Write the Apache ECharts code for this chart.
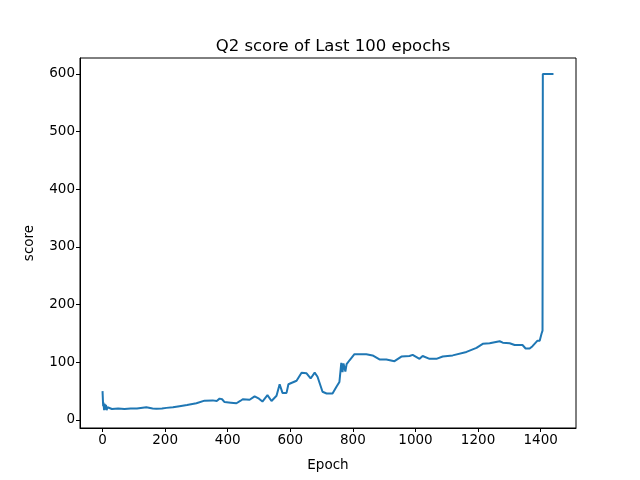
<!DOCTYPE html>
<html><head><meta charset="utf-8">
<script src="https://cdn.jsdelivr.net/npm/echarts@6/dist/echarts.min.js"></script>
<style>html,body{margin:0;padding:0;background:#fff}#c{width:640px;height:480px}</style>
</head><body><div id="c"></div>
<script>
const epochs = [0,2,3,5,7,9,11,13,16,20,30,50,70,90,110,140,160,172,190,204,225,246,270,300,326,352,365,374,382,390,410,428,440,448,470,486,500,511,527,540,556,560,566,570,575,588,594,620,636,652,665,678,687,695,703,716,735,748,757,763,767,770,773,776,780,790,805,843,863,885,907,933,955,981,991,1013,1023,1045,1067,1087,1119,1163,1195,1215,1237,1269,1279,1301,1317,1342,1352,1365,1374,1390,1397,1403,1406,1407,1441];
const scores = [50,24,30,17,28,18,26,17,22,19,19,20,19,20,20,22,20,19.6,20,21,22,24,26,29,33.5,34,33,37,36,31,30,29,33,36,35,41,37,32,43,33,42,44,62,60,47,47,62,68,82,81,72,82,75,62,49,46,46,58,66,99,83,98,99,84,97,104,114,114,112,105,105,102,110,111,113,106,111,106,106,110,112,118,125,132,133,136.5,134,133,130,130,124,124,128,137.5,137.5,150,155,600,600];
const xTicks = [0,200,400,600,800,1000,1200,1400];
const yTicks = [0,100,200,300,400,500,600];
const titleText = 'Q2 score of Last 100 epochs';
const xName = 'Epoch';
const yName = 'score';

const font = 'DejaVu Sans';
const chart = echarts.init(document.getElementById('c'), null, {renderer:'canvas'});
chart.setOption({
  animation:false,
  title:{text:titleText,left:328,top:33,textAlign:'center',textStyle:{fontFamily:font,fontSize:16.5,fontWeight:'normal',color:'#000'}},
  grid:{left:80,right:64,top:58,bottom:52,show:true,borderColor:'#000',borderWidth:1,containLabel:false},
  xAxis:{type:'value',min:-72,max:1513,name:xName,nameLocation:'middle',nameGap:30,
    nameTextStyle:{fontFamily:font,fontSize:13.5,color:'#000'},
    axisLine:{show:true,onZero:false,lineStyle:{color:'#000',width:1}},
    axisTick:{show:true,inside:false,length:4,lineStyle:{color:'#000'},customValues:xTicks},
    axisLabel:{fontFamily:font,fontSize:13.5,color:'#000',margin:5,customValues:xTicks,formatter:v=>String(v)},
    splitLine:{show:false}},
  yAxis:{type:'value',min:-13.9,max:627.7,name:yName,nameLocation:'middle',nameGap:44,nameRotate:90,
    nameTextStyle:{fontFamily:font,fontSize:13.5,color:'#000'},
    axisLine:{show:true,onZero:false,lineStyle:{color:'#000',width:1}},
    axisTick:{show:true,inside:false,length:4,lineStyle:{color:'#000'},customValues:yTicks},
    axisLabel:{fontFamily:font,fontSize:13.5,color:'#000',margin:5,customValues:yTicks,formatter:v=>String(v)},
    splitLine:{show:false}},
  series:[{type:'line',data:epochs.map((e,i)=>[e,scores[i]]),showSymbol:false,symbol:'none',
    lineStyle:{color:'#1f77b4',width:2},itemStyle:{color:'#1f77b4'}}]
});
</script></body></html>
